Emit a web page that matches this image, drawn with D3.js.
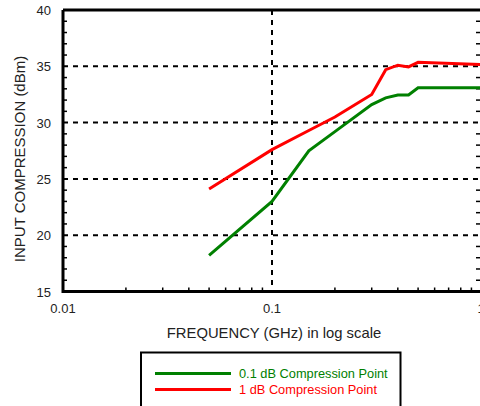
<!DOCTYPE html>
<html><head><meta charset="utf-8">
<script src="https://cdn.jsdelivr.net/npm/d3@7"></script>
<style>body{margin:0;background:#fff}svg{display:block;font-family:"Liberation Sans",Arial,sans-serif}</style>
</head><body>
<svg id="c" width="480" height="406"></svg>
<script>
const freqGreen = [0.05, 0.1, 0.15, 0.2, 0.3, 0.35, 0.4, 0.45, 0.5, 1];
const valGreen  = [18.2, 23.0, 27.5, 29.2, 31.6, 32.2, 32.45, 32.45, 33.1, 33.1];
const freqRed   = [0.05, 0.1, 0.15, 0.2, 0.3, 0.35, 0.4, 0.45, 0.5, 1];
const valRed    = [24.1, 27.6, 29.3, 30.5, 32.5, 34.7, 35.1, 34.95, 35.35, 35.15];
const yTicks = [15, 20, 25, 30, 35, 40];
const yGrid = [20, 25, 30, 35];
const xTicks = [0.01, 0.1, 1];
const xTickLabels = ["0.01", "0.1", "1"];
const seriesNames = ["0.1 dB Compression Point", "1 dB Compression Point"];
const seriesColors = ["#008000", "#ff0000"];

const svg = d3.select("#c");
const L = 63, R = 480, T = 10, B = 291.5;
const x = d3.scaleLog().domain([0.01, 1]).range([L, 481]);
const y = d3.scaleLinear().domain([15, 40]).range([B, T]);

// grid
const g = svg.append("g");
g.selectAll(".hg").data(yGrid).join("line")
  .attr("x1", L).attr("x2", R).attr("y1", d => y(d)).attr("y2", d => y(d))
  .attr("stroke", "#000").attr("stroke-width", 2).attr("stroke-dasharray", "5,5");
g.selectAll(".vg").data([0.1]).join("line")
  .attr("x1", d => x(d)).attr("x2", d => x(d)).attr("y1", T).attr("y2", B)
  .attr("stroke", "#000").attr("stroke-width", 2).attr("stroke-dasharray", "5,5");

// minor ticks
const yMinor = d3.range(16, 40, 1).filter(v => v % 5 !== 0);
svg.selectAll(".ym").data(yMinor).join("line")
  .attr("x1", L).attr("x2", L + 4).attr("y1", d => y(d)).attr("y2", d => y(d))
  .attr("stroke", "#000").attr("stroke-width", 1.5);
svg.selectAll(".ymr").data(yMinor).join("line")
  .attr("x1", R - 4).attr("x2", R).attr("y1", d => y(d)).attr("y2", d => y(d))
  .attr("stroke", "#000").attr("stroke-width", 1.5);
const xMinor = [];
[0.01, 0.1].forEach(dec => { for (let k = 2; k <= 9; k++) xMinor.push(dec * k); });
svg.selectAll(".xm").data(xMinor).join("line")
  .attr("x1", d => x(d)).attr("x2", d => x(d)).attr("y1", B).attr("y2", B - 4)
  .attr("stroke", "#000").attr("stroke-width", 1.5);

// lines
const line = d3.line().x(d => x(d[0])).y(d => y(d[1]));
const series = [d3.zip(freqGreen, valGreen), d3.zip(freqRed, valRed)];
svg.selectAll(".s").data(series).join("path")
  .attr("d", line).attr("fill", "none")
  .attr("stroke", (d, i) => seriesColors[i]).attr("stroke-width", 3)
  .attr("stroke-linejoin", "miter");

// frame
svg.append("path")
  .attr("d", `M${L},${T}H${R + 2}M${L},${T}V${B}H${R + 2}`)
  .attr("fill", "none").attr("stroke", "#000").attr("stroke-width", 3);

// y tick labels
svg.selectAll(".yl").data(yTicks).join("text")
  .attr("x", 51).attr("y", d => y(d) + 5).attr("text-anchor", "end")
  .attr("font-size", 13).attr("fill", "#222").text(d => d);
// x tick labels
svg.selectAll(".xl").data(xTicks).join("text")
  .attr("x", d => x(d)).attr("y", 313).attr("text-anchor", "middle")
  .attr("font-size", 13).attr("fill", "#222").text((d, i) => xTickLabels[i]);

// axis titles
svg.append("text").attr("x", 274).attr("y", 338).attr("text-anchor", "middle")
  .attr("font-size", 14.8).attr("fill", "#222").text("FREQUENCY (GHz) in log scale");
svg.append("text").attr("transform", "translate(25,159) rotate(-90)")
  .attr("text-anchor", "middle").attr("font-size", 15).attr("fill", "#222")
  .text("INPUT COMPRESSION (dBm)");

// legend
svg.append("rect").attr("x", 141).attr("y", 352.5).attr("width", 259.5).attr("height", 55)
  .attr("fill", "#fff").attr("stroke", "#000").attr("stroke-width", 2);
seriesNames.forEach((n, i) => {
  const yy = 373.5 + i * 16;
  svg.append("line").attr("x1", 155).attr("x2", 231).attr("y1", yy).attr("y2", yy)
    .attr("stroke", seriesColors[i]).attr("stroke-width", 3);
  svg.append("text").attr("x", 239).attr("y", yy + 4.5).attr("font-size", 12.8)
    .attr("fill", seriesColors[i]).text(n);
});
</script>
</body></html>
